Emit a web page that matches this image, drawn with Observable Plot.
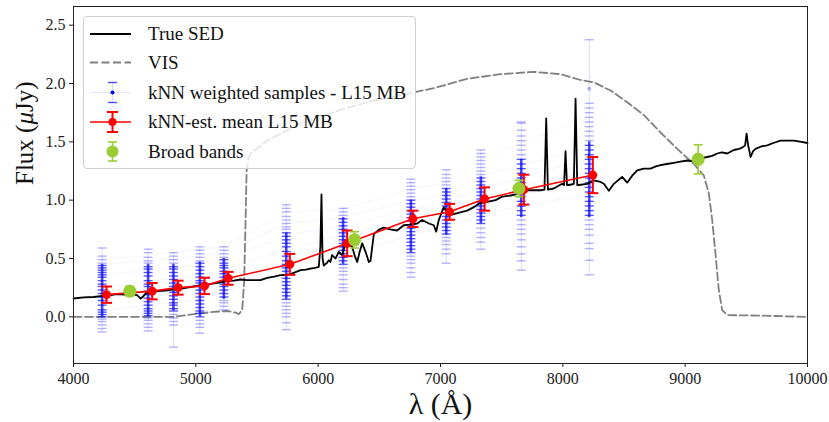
<!DOCTYPE html>
<html><head><meta charset="utf-8">
<script src="https://cdn.jsdelivr.net/npm/d3@7"></script>
<script src="https://cdn.jsdelivr.net/npm/@observablehq/plot@0.6"></script>
<style>
body{margin:0;background:#fff;overflow:hidden}
#wrap{position:relative;width:829px;height:422px}
#legend{position:absolute;left:83px;top:16px;width:331px;height:151px;border:1px solid #d0d0d0;border-radius:4px;background:rgba(255,255,255,0.8);}
#legend svg{position:absolute;left:0;top:0}
</style></head><body><div id="wrap"></div>
<script>
// ---- True SED ----
const sedLam = [4000,4084,4166,4221,4290,4357,4420,4466,4520,4548,4570,4589,4640,4684,4750,4820,4870,4929,4980,5038,5090,5147,5200,5256,5310,5365,5420,5474,5529,5583,5640,5692,5740,5774,5820,5856,5900,5937,5975,6005,6018,6027,6036,6046,6070,6087,6100,6114,6141,6169,6196,6215,6237,6278,6300,6319,6340,6360,6390,6414,6428,6455,6500,6537,6590,6645,6700,6750,6809,6850,6905,6945,6965,6986,7027,7068,7123,7177,7218,7272,7313,7381,7450,7504,7572,7640,7709,7818,7850,7864,7878,7926,7994,8010,8022,8034,8049,8090,8104,8118,8131,8199,8253,8308,8335,8376,8417,8485,8526,8567,8608,8662,8717,8760,8799,8850,8908,8960,9017,9071,9130,9180,9220,9262,9300,9344,9398,9440,9466,9490,9502,9515,9535,9555,9575,9620,9671,9720,9780,9830,9889,9950,10000];
const sedFlux = [0.157,0.166,0.17,0.177,0.185,0.194,0.19,0.194,0.186,0.157,0.175,0.2,0.21,0.22,0.225,0.235,0.24,0.25,0.26,0.27,0.275,0.286,0.295,0.306,0.31,0.32,0.315,0.314,0.314,0.334,0.345,0.357,0.36,0.366,0.385,0.4,0.405,0.414,0.42,0.428,0.6,1.05,0.5,0.44,0.46,0.485,0.47,0.53,0.5,0.556,0.53,0.6,0.64,0.6,0.52,0.47,0.56,0.63,0.55,0.47,0.48,0.71,0.75,0.765,0.75,0.74,0.785,0.79,0.8,0.83,0.8,0.785,0.73,0.83,0.94,0.87,0.885,0.9,0.91,0.94,0.97,0.985,1.0,1.03,1.04,1.056,1.085,1.085,1.09,1.7,1.09,1.1,1.14,1.13,1.42,1.13,1.13,1.14,1.87,1.13,1.13,1.14,1.17,1.156,1.14,1.08,1.14,1.2,1.15,1.21,1.256,1.27,1.27,1.29,1.3,1.31,1.32,1.33,1.34,1.33,1.36,1.37,1.38,1.4,1.41,1.4,1.43,1.44,1.45,1.47,1.57,1.47,1.37,1.42,1.44,1.46,1.47,1.49,1.51,1.51,1.51,1.5,1.49];

// ---- VIS throughput ----
const visLam = [4000,4500,4820,4929,5038,5147,5256,5330,5351,5379,5395,5406,5415,5430,5447,5583,5856,6128,6400,6673,6945,7218,7490,7763,7981,8145,8253,8390,8526,8662,8799,8935,9071,9153,9194,9221,9248,9275,9303,9344,9616,10000];
const visFlux = [0.0,0.0,0.0,0.015,0.03,0.043,0.05,0.035,0.023,0.057,0.3,0.8,1.25,1.36,1.4,1.51,1.656,1.755,1.84,1.9,1.96,2.04,2.08,2.1,2.08,2.03,2.01,1.94,1.84,1.73,1.58,1.44,1.31,1.21,1.056,0.83,0.54,0.23,0.057,0.015,0.01,0.0];

// ---- kNN weighted samples (caps read per narrow band) ----
const bandLam = [4234,4610,4817,5033,5229,5739,6204,6758,7047,7330,7660,8216];
const samples4234 = [0.59,0.52,0.49,0.46,0.44,0.42,0.40,0.38,0.36,0.34,0.31,0.28,0.26,0.23,0.20,0.17,0.14,0.10,0.06,0.04,0.02,0.0,-0.02,-0.04,-0.07,-0.10,-0.13];
const samples4610 = [0.58,0.55,0.51,0.48,0.46,0.43,0.41,0.38,0.35,0.31,0.28,0.26,0.22,0.19,0.16,0.13,0.10,0.07,0.05,0.03,0.01,-0.01,-0.03,-0.06,-0.09,-0.12];
const samples4817 = [0.55,0.52,0.49,0.46,0.43,0.41,0.38,0.35,0.32,0.29,0.26,0.24,0.21,0.18,0.15,0.12,0.10,0.07,0.05,0.02,-0.01,-0.04,-0.07,-0.26];
const samples5033 = [0.60,0.57,0.54,0.51,0.48,0.46,0.43,0.40,0.37,0.34,0.31,0.29,0.26,0.23,0.20,0.17,0.14,0.11,0.08,0.05,0.03,0.0,-0.03,-0.06,-0.09,-0.14];
const samples5229 = [0.60,0.57,0.54,0.51,0.49,0.46,0.44,0.42,0.39,0.37,0.34,0.31,0.28,0.26,0.23,0.20,0.17,0.14,0.12,0.09,0.06];
const samples5739 = [0.96,0.93,0.90,0.86,0.83,0.80,0.77,0.75,0.72,0.69,0.66,0.63,0.60,0.56,0.52,0.48,0.45,0.42,0.39,0.36,0.33,0.30,0.27,0.24,0.21,0.18,0.15,0.12,0.09,0.06,0.03,0.0,-0.05,-0.11];
const samples6204 = [0.93,0.90,0.87,0.84,0.81,0.78,0.75,0.72,0.69,0.66,0.63,0.60,0.57,0.54,0.51,0.48,0.45,0.42,0.39,0.36,0.32,0.28,0.25,0.22];
const samples6758 = [1.18,1.15,1.12,1.09,1.06,1.03,1.00,0.97,0.94,0.91,0.88,0.85,0.82,0.79,0.76,0.73,0.70,0.67,0.64,0.61,0.58,0.55,0.52,0.49,0.46,0.42,0.38,0.34];
const samples7047 = [1.26,1.22,1.19,1.16,1.13,1.10,1.07,1.04,1.01,0.98,0.95,0.92,0.89,0.86,0.83,0.80,0.77,0.74,0.71,0.68,0.65,0.62,0.58,0.54,0.46];
const samples7330 = [1.43,1.40,1.37,1.34,1.31,1.28,1.25,1.22,1.19,1.16,1.13,1.10,1.07,1.04,1.01,0.98,0.95,0.92,0.89,0.86,0.83,0.80,0.76,0.72,0.68,0.64,0.58];
const samples7660 = [1.67,1.66,1.60,1.55,1.51,1.47,1.43,1.39,1.35,1.31,1.27,1.23,1.19,1.15,1.11,1.07,1.03,0.99,0.95,0.91,0.87,0.83,0.79,0.75,0.71,0.66,0.60,0.54,0.48,0.40];
const samples8216 = [2.375,1.83,1.79,1.75,1.71,1.67,1.63,1.59,1.55,1.51,1.47,1.43,1.39,1.35,1.31,1.27,1.23,1.19,1.15,1.11,1.07,1.03,0.99,0.95,0.91,0.87,0.83,0.79,0.75,0.70,0.63,0.585,0.485,0.36];
const sampleDots = [null,null,null,null,null,null,null,null,null,null,null,1.955];
const coreLo = [0.0,0.0,0.05,0.0,0.15,0.15,0.45,0.55,0.70,0.80,0.85,0.85];
const coreHi = [0.45,0.45,0.45,0.47,0.50,0.72,0.85,1.00,1.10,1.20,1.35,1.50];
// faint sample SED tracks across the bands
const track1 = [0.45,0.48,0.50,0.52,0.55,0.80,0.85,1.00,1.05,1.20,1.30,1.45];
const track2 = [0.35,0.40,0.42,0.45,0.48,0.70,0.78,0.92,0.98,1.10,1.20,1.35];
const track3 = [0.25,0.30,0.33,0.36,0.40,0.58,0.70,0.86,0.92,1.03,1.12,1.25];
const track4 = [0.15,0.20,0.22,0.25,0.30,0.45,0.60,0.78,0.85,0.95,1.05,1.15];
const track5 = [0.05,0.10,0.12,0.15,0.22,0.35,0.52,0.70,0.78,0.88,0.95,1.05];
const track6 = [0.50,0.52,0.55,0.58,0.60,0.90,0.92,1.10,1.15,1.35,1.50,1.70];

// ---- kNN-estimated mean ----
const meanLam = [4270,4643,4855,5071,5264,5768,6237,6774,7074,7360,7681,8245];
const meanFlux = [0.19,0.22,0.25,0.265,0.33,0.45,0.63,0.84,0.90,1.01,1.09,1.215];
const meanErr = [0.07,0.07,0.06,0.07,0.055,0.09,0.11,0.07,0.068,0.10,0.128,0.155];

// ---- broad bands ----
const bbLam = [4460,6297,7641,9106];
const bbFlux = [0.22,0.66,1.10,1.35];
const bbErr = [0.04,0.07,0.07,0.125];

// ---- axes ----
const xTicks = [4000,5000,6000,7000,8000,9000,10000];
const yTicks = [0.0,0.5,1.0,1.5,2.0,2.5];

// ---- tables ----
const sampleLists = [samples4234,samples4610,samples4817,samples5033,samples5229,samples5739,samples6204,samples6758,samples7047,samples7330,samples7660,samples8216];
const sed = sedLam.map((x,i)=>({x, y: sedFlux[i]}));
const vis = visLam.map((x,i)=>({x, y: visFlux[i]}));
const tickRows = bandLam.flatMap((x,i)=>sampleLists[i].map(y=>({x, y, core: y>=coreLo[i] && y<=coreHi[i]})));
const bandRows = bandLam.map((x,i)=>({x, lo: d3.min(sampleLists[i]), hi: d3.max(sampleLists[i]), cLo: coreLo[i], cHi: coreHi[i]}));
const dotRows = bandLam.map((x,i)=>({x, y: sampleDots[i]})).filter(d=>d.y!=null);
const tracks = [track1,track2,track3,track4,track5,track6];
const trackRows = tracks.flatMap((t,k)=>t.map((y,i)=>({x: bandLam[i], y, k})));
const meanRows = meanLam.map((x,i)=>({x, y: meanFlux[i], lo: meanFlux[i]-meanErr[i], hi: meanFlux[i]+meanErr[i]}));
const meanCaps = meanRows.flatMap(d=>[{x:d.x,y:d.lo},{x:d.x,y:d.hi}]);
const bbRows = bbLam.map((x,i)=>({x, y: bbFlux[i], lo: bbFlux[i]-bbErr[i], hi: bbFlux[i]+bbErr[i]}));
const bbCaps = bbRows.flatMap(d=>[{x:d.x,y:d.lo},{x:d.x,y:d.hi}]);

const hbar = {draw(ctx, size){ const w = Math.sqrt(size/Math.PI); ctx.moveTo(-w,0); ctx.lineTo(w,0); }};
const FONT = '"Liberation Serif", "DejaVu Serif", serif';
const GREEN = "#9acd32";

const chart = Plot.plot({
  width: 829, height: 422,
  marginLeft: 73, marginRight: 22, marginTop: 6, marginBottom: 59,
  style: {fontFamily: FONT, fontSize: "16px", color: "#222", background: "#fff"},
  x: {domain: [4000, 10000]},
  y: {domain: [-0.4, 2.66]},
  marks: [
    Plot.line(vis, {x:"x", y:"y", stroke:"#808080", strokeWidth:1.8, strokeDasharray:"8,3.5"}),
    Plot.line(trackRows, {x:"x", y:"y", z:"k", stroke:"blue", strokeOpacity:0.045, strokeWidth:1}),
    Plot.ruleX(bandRows, {x:"x", y1:"lo", y2:"hi", stroke:"blue", strokeOpacity:0.15, strokeWidth:1}),
    Plot.dot(tickRows, {x:"x", y:"y", symbol: hbar, r:4.5, stroke:"blue", fill:"none", strokeWidth:1.4, strokeOpacity: d=>d.core?0.65:0.3}),
    Plot.ruleX(bandRows, {x:"x", y1:"cLo", y2:"cHi", stroke:"blue", strokeWidth:2.6, strokeOpacity:0.7}),
    Plot.dot(dotRows, {x:"x", y:"y", r:2, fill:"blue", fillOpacity:0.3}),
    Plot.line(sed, {x:"x", y:"y", stroke:"black", strokeWidth:1.8}),
    Plot.line(meanRows, {x:"x", y:"y", stroke:"red", strokeWidth:1.6}),
    Plot.ruleX(meanRows, {x:"x", y1:"lo", y2:"hi", stroke:"red", strokeWidth:2}),
    Plot.dot(meanCaps, {x:"x", y:"y", symbol: hbar, r:5.5, stroke:"red", strokeWidth:2, fill:"none"}),
    Plot.dot(meanRows, {x:"x", y:"y", r:4.5, fill:"red"}),
    Plot.ruleX(bbRows, {x:"x", y1:"lo", y2:"hi", stroke:GREEN, strokeWidth:1.6}),
    Plot.dot(bbCaps, {x:"x", y:"y", symbol: hbar, r:4.5, stroke:GREEN, strokeWidth:1.6, fill:"none"}),
    Plot.dot(bbRows, {x:"x", y:"y", r:6.5, fill:GREEN}),
    Plot.frame({stroke:"#222", strokeWidth:1}),
    Plot.axisX({ticks: xTicks, tickFormat: d=>String(d), tickSize:4, tickPadding:5, fontSize:16, label:null}),
    Plot.axisY({ticks: yTicks, tickFormat: d3.format(".1f"), tickSize:4, tickPadding:4, fontSize:16, label:null}),
    Plot.text(["λ (Å)"], {frameAnchor:"bottom", lineAnchor:"bottom", dy:50, fontSize:30, fill:"#111"}),
    Plot.text(["Flux (μJy)"], {frameAnchor:"left", rotate:-90, dx:-49, fontSize:25, fill:"#111"})
  ]
});

// italic mu, as in the math-mode label
d3.select(chart).selectAll("text").filter(function(){ return this.textContent === "Flux (μJy)"; })
  .each(function(){ this.innerHTML = 'Flux (<tspan font-style="italic">μ</tspan>Jy)'; });

const wrap = document.getElementById("wrap");
wrap.appendChild(chart);

// ---- legend ----
const legend = document.createElement("div");
legend.id = "legend";
const ns = "http://www.w3.org/2000/svg";
const ls = document.createElementNS(ns, "svg");
ls.setAttribute("width", 331); ls.setAttribute("height", 151);
const labels = ["True SED","VIS","kNN weighted samples - L15 MB","kNN-est. mean L15 MB","Broad bands"];
const rowsY = [17, 45.5, 75.5, 105, 134.5];
const hx0 = 6, hx1 = 47, hc = 28.5;
let s = "";
s += `<line x1="${hx0}" x2="${hx1}" y1="${rowsY[0]}" y2="${rowsY[0]}" stroke="black" stroke-width="1.8"/>`;
s += `<line x1="${hx0}" x2="${hx1}" y1="${rowsY[1]}" y2="${rowsY[1]}" stroke="#808080" stroke-width="1.8" stroke-dasharray="8,3.5"/>`;
let y = rowsY[2];
s += `<line x1="${hx0}" x2="${hx1}" y1="${y}" y2="${y}" stroke="blue" stroke-opacity="0.1" stroke-width="1"/>`;
s += `<line x1="${hc}" x2="${hc}" y1="${y-10}" y2="${y+10}" stroke="blue" stroke-opacity="0.15" stroke-width="1"/>`;
s += `<line x1="${hc-4.5}" x2="${hc+4.5}" y1="${y-10}" y2="${y-10}" stroke="blue" stroke-opacity="0.7" stroke-width="1.4"/>`;
s += `<line x1="${hc-4.5}" x2="${hc+4.5}" y1="${y+10}" y2="${y+10}" stroke="blue" stroke-opacity="0.7" stroke-width="1.4"/>`;
s += `<circle cx="${hc}" cy="${y}" r="2" fill="blue"/>`;
y = rowsY[3];
s += `<line x1="${hx0}" x2="${hx1}" y1="${y}" y2="${y}" stroke="red" stroke-width="1.6"/>`;
s += `<line x1="${hc}" x2="${hc}" y1="${y-10}" y2="${y+10}" stroke="red" stroke-width="2"/>`;
s += `<line x1="${hc-5.5}" x2="${hc+5.5}" y1="${y-10}" y2="${y-10}" stroke="red" stroke-width="2"/>`;
s += `<line x1="${hc-5.5}" x2="${hc+5.5}" y1="${y+10}" y2="${y+10}" stroke="red" stroke-width="2"/>`;
s += `<circle cx="${hc}" cy="${y}" r="4" fill="red"/>`;
y = rowsY[4];
s += `<line x1="${hc}" x2="${hc}" y1="${y-9.5}" y2="${y+9.5}" stroke="${GREEN}" stroke-width="1.6"/>`;
s += `<line x1="${hc-4.5}" x2="${hc+4.5}" y1="${y-9.5}" y2="${y-9.5}" stroke="${GREEN}" stroke-width="1.6"/>`;
s += `<line x1="${hc-4.5}" x2="${hc+4.5}" y1="${y+9.5}" y2="${y+9.5}" stroke="${GREEN}" stroke-width="1.6"/>`;
s += `<circle cx="${hc}" cy="${y}" r="6" fill="${GREEN}"/>`;
labels.forEach((t,i)=>{
  s += `<text x="64" y="${rowsY[i]}" dy="0.33em" font-family='${FONT}' font-size="19" fill="#111">${t}</text>`;
});
ls.innerHTML = s;
legend.appendChild(ls);
wrap.appendChild(legend);
</script></body></html>
